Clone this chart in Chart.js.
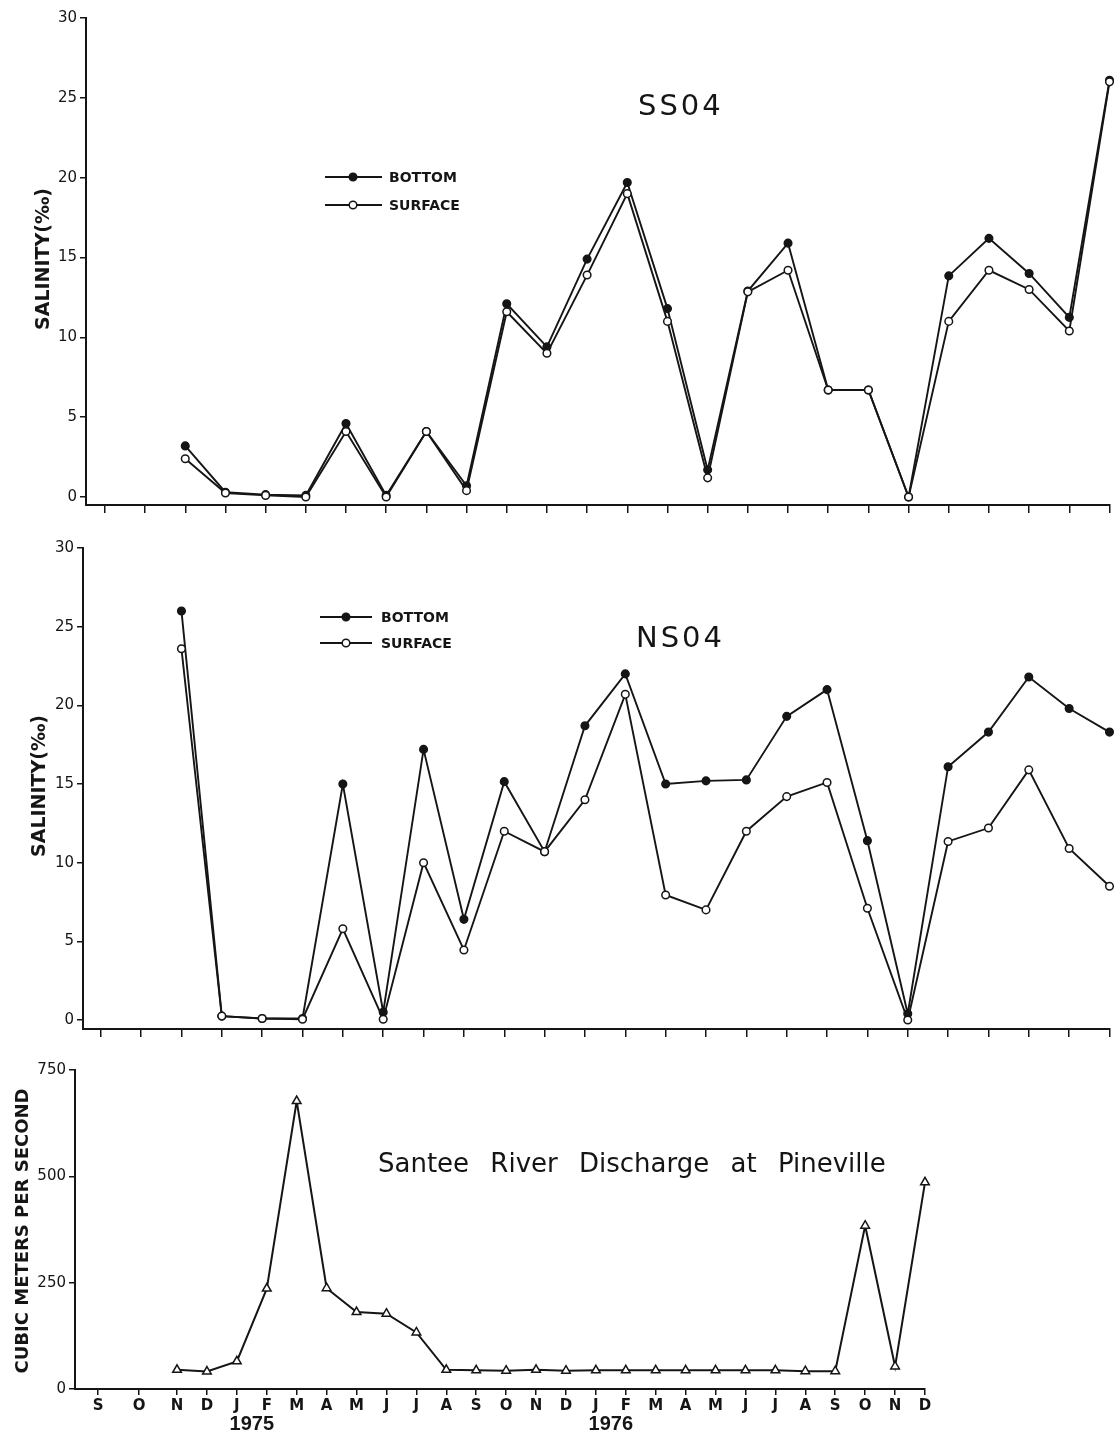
<!DOCTYPE html>
<html>
<head>
<meta charset="utf-8">
<script src="https://cdn.jsdelivr.net/npm/chart.js@4.4.1/dist/chart.umd.min.js"></script>
<style>
    html, body { margin: 0; padding: 0; background: #fff; overflow: hidden; }
    .panel { position: absolute; left: 0; }
    #ss04Wrap { top: 0; }
    #ns04Wrap { top: 520px; }
    #flowWrap { top: 1045px; }
</style>
</head>
<body>
<div class="panel" id="ss04Wrap"><canvas id="ss04Chart" width="1115" height="520"></canvas></div>
<div class="panel" id="ns04Wrap"><canvas id="ns04Chart" width="1115" height="525"></canvas></div>
<div class="panel" id="flowWrap"><canvas id="flowChart" width="1115" height="390"></canvas></div>

<script>
// ========== 数据 ==========
// 月份轴：1974年9月 ~ 1976年12月
const monthLabels = ['S', 'O', 'N', 'D', 'J', 'F', 'M', 'A', 'M', 'J', 'J', 'A',
                     'S', 'O', 'N', 'D', 'J', 'F', 'M', 'A', 'M', 'J', 'J', 'A',
                     'S', 'O', 'N', 'D'];
const yearLabels = ['1975', '1976'];
const yearJanIndex = [4, 16];
const firstSampleIndex = 2;   // 第一个采样 = 1974年11月

// SS04 盐度 (‰)
const ss04Bottom  = [3.2, 0.3, 0.15, 0.1, 4.6, 0.1, 4.1, 0.7, 12.1, 9.4, 14.9, 19.7,
                     11.8, 1.7, 12.9, 15.9, 6.7, 6.7, 0, 13.85, 16.2, 14.0, 11.25, 26.1];
const ss04Surface = [2.4, 0.25, 0.1, 0, 4.1, 0, 4.1, 0.4, 11.6, 9.0, 13.9, 19.0,
                     11.0, 1.2, 12.85, 14.2, 6.7, 6.7, 0, 11.0, 14.2, 13.0, 10.4, 26.0];

// NS04 盐度 (‰)
const ns04Bottom  = [26.0, 0.25, 0.1, 0.1, 15.0, 0.5, 17.2, 6.4, 15.15, 10.7, 18.7, 22.0,
                     15.0, 15.2, 15.26, 19.3, 21.0, 11.4, 0.4, 16.1, 18.3, 21.8, 19.8, 18.3];
const ns04Surface = [23.6, 0.25, 0.1, 0.05, 5.8, 0.05, 10.0, 4.45, 12.0, 10.7, 14.0, 20.7,
                     7.95, 7.0, 12.0, 14.2, 15.1, 7.1, 0, 11.35, 12.2, 15.9, 10.9, 8.5];

// Santee River 流量 (m³/s)
const discharge = [45, 41, 65, 236, 677, 237, 181, 177, 133, 45, 44, 43, 45,
                   43, 44, 44, 44, 44, 44, 44, 44, 42, 42, 384, 53, 486];

const salinityTicks = [0, 5, 10, 15, 20, 25, 30];
const dischargeTicks = [0, 250, 500, 750];

const INK = '#151515';

function toXY(values) {
    return values.map((v, i) => ({ x: firstSampleIndex + i, y: v }));
}

// ========== 文字标注插件 ==========
function drawSpaced(ctx, text, x, y, spacing) {
    for (const ch of text) {
        ctx.fillText(ch, x, y);
        x += ctx.measureText(ch).width + spacing;
    }
}

function drawWords(ctx, text, x, y, gap) {
    text.split(' ').forEach(w => {
        ctx.fillText(w, x, y);
        x += ctx.measureText(w + ' ').width + gap;
    });
}

const panelTextPlugin = {
    id: 'panelText',
    afterDraw(chart, args, opts) {
        const ctx = chart.ctx;
        ctx.save();
        ctx.fillStyle = INK;
        ctx.strokeStyle = INK;
        ctx.textBaseline = 'middle';

        // 纵轴标题
        if (opts.yTitle) {
            ctx.save();
            ctx.translate(opts.yTitle.x, opts.yTitle.y);
            ctx.rotate(-Math.PI / 2);
            ctx.textAlign = 'center';
            ctx.font = opts.yTitle.font;
            ctx.fillText(opts.yTitle.text, 0, 0);
            ctx.restore();
        }

        // 图标题
        if (opts.title) {
            ctx.textAlign = 'left';
            ctx.font = opts.title.font;
            if (opts.title.wordGap) {
                drawWords(ctx, opts.title.text, opts.title.x, opts.title.y, opts.title.wordGap);
            } else {
                drawSpaced(ctx, opts.title.text, opts.title.x, opts.title.y, opts.title.spacing || 0);
            }
        }

        // 图例
        if (opts.legend) {
            const lg = opts.legend;
            const items = [
                { text: 'BOTTOM', fill: INK, y: lg.y[0] },
                { text: 'SURFACE', fill: '#fff', y: lg.y[1] }
            ];
            ctx.font = 'bold 14px "DejaVu Sans"';
            ctx.textAlign = 'left';
            items.forEach(item => {
                ctx.lineWidth = 2;
                ctx.beginPath();
                ctx.moveTo(lg.x0, item.y);
                ctx.lineTo(lg.x1, item.y);
                ctx.stroke();
                ctx.beginPath();
                ctx.arc(lg.mark, item.y, 3.8, 0, Math.PI * 2);
                ctx.fillStyle = item.fill;
                ctx.fill();
                ctx.lineWidth = 1.5;
                ctx.stroke();
                ctx.fillStyle = INK;
                ctx.fillText(item.text, lg.textX, item.y + 1);
            });
        }

        // 年份
        if (opts.years) {
            const xs = chart.scales.x;
            ctx.font = 'bold 20px "Liberation Sans"';
            ctx.textAlign = 'center';
            yearLabels.forEach((label, k) => {
                const px = xs.getPixelForValue(yearJanIndex[k] + 0.5);
                ctx.fillText(label, px, chart.chartArea.bottom + 35);
            });
        }
        ctx.restore();
    }
};

// ========== 盐度图 ==========
function makeSalinityChart(id, cfg) {
    const ctx = document.getElementById(id).getContext('2d');
    const lineStyle = {
        borderColor: INK,
        borderWidth: 1.9,
        tension: 0,
        pointStyle: 'circle',
        pointRadius: 3.8,
        pointBorderColor: INK,
        pointBorderWidth: 1.5,
        clip: false
    };
    return new Chart(ctx, {
        type: 'line',
        data: {
            datasets: [
                Object.assign({ label: 'SURFACE', data: toXY(cfg.surface), pointBackgroundColor: '#fff', order: 0 }, lineStyle),
                Object.assign({ label: 'BOTTOM', data: toXY(cfg.bottom), pointBackgroundColor: INK, order: 1 }, lineStyle)
            ]
        },
        options: {
            responsive: false,
            animation: false,
            layout: { padding: cfg.padding },
            plugins: {
                legend: { display: false },
                tooltip: { enabled: false },
                panelText: cfg.text
            },
            scales: {
                x: {
                    type: 'linear',
                    min: cfg.xMin,
                    max: 25,
                    afterBuildTicks: s => { s.ticks = monthLabels.slice(0, 26).map((m, i) => ({ value: i })); },
                    afterFit: s => { s.height = 10; },
                    ticks: { display: false },
                    grid: { drawOnChartArea: false, tickLength: 8, color: INK, lineWidth: 1.5 },
                    border: { color: INK, width: 2 }
                },
                y: {
                    min: cfg.yMin,
                    max: 30,
                    afterBuildTicks: s => { s.ticks = salinityTicks.map(v => ({ value: v })); },
                    afterFit: s => { s.width = cfg.axisX; },
                    ticks: { color: INK, font: { family: 'DejaVu Sans', size: 15 }, padding: 3 },
                    grid: { drawOnChartArea: false, tickLength: 6, color: INK, lineWidth: 1.5 },
                    border: { color: INK, width: 2 }
                }
            }
        },
        plugins: [panelTextPlugin]
    });
}

makeSalinityChart('ss04Chart', {
    bottom: ss04Bottom,
    surface: ss04Surface,
    padding: { top: 18, bottom: 5, left: 0, right: 0 },
    axisX: 86,
    xMin: -0.47,
    yMin: -0.5,
    text: {
        yTitle: { text: 'SALINITY(‰)', x: 44, y: 259, font: 'bold 19px "DejaVu Sans"' },
        title: { text: 'SS04', x: 638, y: 107, font: '29px "DejaVu Sans"', spacing: 3 },
        legend: { x0: 325, x1: 382, mark: 353, textX: 389, y: [177, 205] }
    }
});

makeSalinityChart('ns04Chart', {
    bottom: ns04Bottom,
    surface: ns04Surface,
    padding: { top: 28, bottom: 6, left: 0, right: 0 },
    axisX: 83,
    xMin: -0.44,
    yMin: -0.57,
    text: {
        yTitle: { text: 'SALINITY(‰)', x: 40, y: 266, font: 'bold 19px "DejaVu Sans"' },
        title: { text: 'NS04', x: 636, y: 119, font: '29px "DejaVu Sans"', spacing: 3 },
        legend: { x0: 320, x1: 372, mark: 346, textX: 381, y: [97, 123] }
    }
});

// ========== 流量图 ==========
function initDischargeChart() {
    const ctx = document.getElementById('flowChart').getContext('2d');
    // S、O 两个刻度在原图中间距较宽
    const earlyTickPos = [-0.64, 0.73];
    new Chart(ctx, {
        type: 'line',
        data: {
            datasets: [{
                label: 'Discharge',
                data: toXY(discharge),
                borderColor: INK,
                borderWidth: 2,
                tension: 0,
                pointStyle: 'triangle',
                pointRadius: 5,
                pointBackgroundColor: '#fff',
                pointBorderColor: INK,
                pointBorderWidth: 1.5,
                clip: false
            }]
        },
        options: {
            responsive: false,
            animation: false,
            layout: { padding: { top: 25, right: 190, bottom: 0, left: 0 } },
            plugins: {
                legend: { display: false },
                tooltip: { enabled: false },
                panelText: {
                    yTitle: { text: 'CUBIC METERS PER SECOND', x: 23, y: 186, font: 'bold 18px "DejaVu Sans"' },
                    title: { text: 'Santee River Discharge at Pineville', x: 378, y: 120, font: '26px "DejaVu Sans"', wordGap: 13 },
                    years: true
                }
            },
            scales: {
                x: {
                    type: 'linear',
                    min: -1.41,
                    max: 27,
                    afterBuildTicks: s => {
                        s.ticks = monthLabels.map((m, i) => ({ value: i < 2 ? earlyTickPos[i] : i }));
                    },
                    afterFit: s => { s.height = 46; },
                    ticks: {
                        autoSkip: false,
                        maxRotation: 0,
                        minRotation: 0,
                        padding: 2,
                        color: INK,
                        font: { family: 'DejaVu Sans', size: 15, weight: 'bold' },
                        callback: (v, i) => monthLabels[i]
                    },
                    grid: { drawOnChartArea: false, tickLength: 6, color: INK, lineWidth: 1.5 },
                    border: { color: INK, width: 2 }
                },
                y: {
                    min: 0,
                    max: 750,
                    afterBuildTicks: s => { s.ticks = dischargeTicks.map(v => ({ value: v })); },
                    afterFit: s => { s.width = 75; },
                    ticks: { color: INK, font: { family: 'DejaVu Sans', size: 15 }, padding: 3 },
                    grid: { drawOnChartArea: false, tickLength: 6, color: INK, lineWidth: 1.5 },
                    border: { color: INK, width: 2 }
                }
            }
        },
        plugins: [panelTextPlugin]
    });
}

initDischargeChart();
</script>
</body>
</html>
